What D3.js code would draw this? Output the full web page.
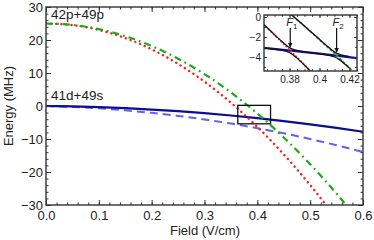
<!DOCTYPE html>
<html>
<head>
<meta charset="utf-8">
<script src="https://cdn.jsdelivr.net/npm/d3@7"></script>
<style>
  body { margin: 0; background: #fff; }
  text { font-family: "Liberation Sans", Arial, sans-serif; fill: #222; }
</style>
</head>
<body>
<svg id="canvas" width="374" height="240"></svg>
<script>
// field values (V/cm) and the four pair states (MHz)
const field = [0, 0.05, 0.1, 0.15, 0.2, 0.25, 0.3, 0.35, 0.4, 0.45, 0.5, 0.55, 0.6]
const dsSolid = [0, -0.12, -0.34, -0.66, -1.07, -1.57, -2.18, -2.87, -3.67, -4.56, -5.55, -6.63, -7.81]
const dsDashed = [0, -0.28, -0.72, -1.32, -2.08, -3.0, -4.08, -5.32, -6.72, -8.28, -10.0, -11.88, -13.92]
const ppRed = [25, 24.51, 23.04, 20.59, 17.17, 12.76, 7.38, 1.01, -6.33, -14.65, -23.95, -34.23, -45.49]
const ppGreen = [25, 24.57, 23.30, 21.16, 18.18, 14.34, 9.66, 4.11, -2.28, -9.53, -17.63, -26.57, -36.38]

// inset: zoom on the two crossings, black = coupled curves
const insetField = [0.36, 0.3625, 0.365, 0.3675, 0.37, 0.3725, 0.375, 0.3775, 0.38, 0.3825, 0.385, 0.3875,
  0.39, 0.3925, 0.395, 0.3975, 0.4, 0.4025, 0.405, 0.4075, 0.41, 0.4125, 0.415, 0.4175, 0.42]
const coupledTop = [null, null, null, null, null, null, null, 0.72, 0.397, 0.073, -0.252, -0.580,
  -0.909, -1.240, -1.571, -1.904, -2.236, -2.567, -2.893, -3.207, -3.484, -3.689, -3.812, -3.893, -3.957]
const coupledMid = [-0.353, -0.703, -1.054, -1.408, -1.761, -2.113, -2.456, -2.782, -3.064, -3.244, -3.350, -3.420,
  -3.478, -3.532, -3.584, -3.635, -3.689, -3.744, -3.807, -3.884, -4.000, -4.191, -4.464, -4.783, -5.121]
const coupledLow = [-3.048, -3.090, -3.133, -3.177, -3.224, -3.276, -3.337, -3.420, -3.559, -3.797, -4.112, -4.463,
  -4.828, -5.202, -5.581, -5.965, null, null, null, null, null, null, null, null, null]

const xTicks = [0, 0.1, 0.2, 0.3, 0.4, 0.5, 0.6]
const yTicks = [30, 20, 10, 0, -10, -20, -30]
const insetXTicks = [0.38, 0.4, 0.42]
const insetYTicks = [0, -2, -4]

const svg = d3.select("#canvas")
const x = d3.scaleLinear().domain([0, 0.6]).range([46, 363])
const y = d3.scaleLinear().domain([-30, 30]).range([205, 7])

const ix = d3.scaleLinear().domain([0.363, 0.425]).range([264, 357])
const iy = d3.scaleLinear().domain([-5.4, 0.2]).range([71, 15])

const defs = svg.append("defs")
defs.append("clipPath").attr("id", "clipMain").append("rect")
  .attr("x", x(0)).attr("y", y(30)).attr("width", x(0.6) - x(0)).attr("height", y(-30) - y(30))
defs.append("clipPath").attr("id", "clipInset").append("rect")
  .attr("x", ix.range()[0]).attr("y", iy.range()[1])
  .attr("width", ix.range()[1] - ix.range()[0]).attr("height", iy.range()[0] - iy.range()[1])
defs.append("marker").attr("id", "head").attr("viewBox", "0 0 10 10")
  .attr("refX", 9).attr("refY", 5).attr("markerWidth", 5).attr("markerHeight", 6)
  .attr("markerUnits", "userSpaceOnUse").attr("orient", "auto")
  .append("path").attr("d", "M0,0L10,5L0,10Z").attr("fill", "#111")

function series(sx, sy, xs, ys, curve) {
  return d3.line()
    .defined(function(d) { return d[1] != null })
    .x(function(d) { return sx(d[0]) })
    .y(function(d) { return sy(d[1]) })
    .curve(curve)(d3.zip(xs, ys))
}

// main curves
const main = svg.append("g").attr("clip-path", "url(#clipMain)")
main.append("path").attr("d", series(x, y, field, dsDashed, d3.curveNatural))
  .attr("fill", "none").attr("stroke", "#6060ff").attr("stroke-width", 2).attr("stroke-dasharray", "8,5")
main.append("path").attr("d", series(x, y, field, dsSolid, d3.curveNatural))
  .attr("fill", "none").attr("stroke", "#0c0c96").attr("stroke-width", 2.2)
main.append("path").attr("d", series(x, y, field, ppRed, d3.curveNatural))
  .attr("fill", "none").attr("stroke", "#ff1a1a").attr("stroke-width", 2.4)
  .attr("stroke-linecap", "round").attr("stroke-dasharray", "0.1,5")
main.append("path").attr("d", series(x, y, field, ppGreen, d3.curveNatural))
  .attr("fill", "none").attr("stroke", "#1eaa1e").attr("stroke-width", 2.2)
  .attr("stroke-dasharray", "7,4,1.8,4")

// zoom box
main.append("rect")
  .attr("x", x(ix.domain()[0])).attr("y", y(iy.domain()[1]))
  .attr("width", x(ix.domain()[1]) - x(ix.domain()[0]))
  .attr("height", y(iy.domain()[0]) - y(iy.domain()[1]))
  .attr("fill", "none").attr("stroke", "#111").attr("stroke-width", 1.3)

// frame ticks
function frameAxes(g, sx, sy, major, minorX, minorY, majorY, big, small, fmtX, fmtY, font, padX, padY) {
  const [x0, x1] = sx.range(), [y1, y0] = sy.range()
  g.append("g").attr("transform", `translate(0,${y1})`)
    .call(d3.axisBottom(sx).tickValues(major).tickSize(-big).tickSizeOuter(0).tickPadding(padX).tickFormat(fmtX))
  g.append("g").attr("transform", `translate(0,${y1})`)
    .call(d3.axisBottom(sx).tickValues(minorX).tickSize(-small).tickFormat(""))
  g.append("g").attr("transform", `translate(0,${y0})`)
    .call(d3.axisTop(sx).tickValues(major).tickSize(-big).tickFormat(""))
  g.append("g").attr("transform", `translate(0,${y0})`)
    .call(d3.axisTop(sx).tickValues(minorX).tickSize(-small).tickFormat(""))
  g.append("g").attr("transform", `translate(${x0},0)`)
    .call(d3.axisLeft(sy).tickValues(majorY).tickSize(-big).tickSizeOuter(0).tickPadding(padY).tickFormat(fmtY))
  g.append("g").attr("transform", `translate(${x0},0)`)
    .call(d3.axisLeft(sy).tickValues(minorY).tickSize(-small).tickFormat(""))
  g.append("g").attr("transform", `translate(${x1},0)`)
    .call(d3.axisRight(sy).tickValues(majorY).tickSize(-big).tickFormat(""))
  g.append("g").attr("transform", `translate(${x1},0)`)
    .call(d3.axisRight(sy).tickValues(minorY).tickSize(-small).tickFormat(""))
  g.selectAll(".domain").remove()
  g.selectAll(".tick line").attr("stroke", "#333")
  g.selectAll(".tick text").attr("font-size", font).attr("fill", "#222")
    .attr("font-family", "Liberation Sans, Arial, sans-serif")
  g.append("rect").attr("x", x0).attr("y", y0).attr("width", x1 - x0).attr("height", y1 - y0)
    .attr("fill", "none").attr("stroke", "#333").attr("stroke-width", 1.4)
}

const minorX = d3.range(0, 0.6001, 0.02).map(function(d) { return +d.toFixed(2) })
const minorY = d3.range(-30, 30.1, 2)
frameAxes(svg.append("g"), x, y, xTicks, minorX, minorY, yTicks, 5, 2.5,
  d3.format(".1f"), d3.format("d"), "13px", 6, 3)

// axis titles and state names
svg.append("text").attr("x", 205).attr("y", 235).attr("text-anchor", "middle")
  .attr("font-size", "13px").text("Field (V/cm)")
svg.append("text").attr("transform", "translate(13,106) rotate(-90)").attr("text-anchor", "middle")
  .attr("font-size", "13px").text("Energy (MHz)")
svg.append("text").attr("x", 51).attr("y", 19).attr("font-size", "13.5px").text("42p+49p")
svg.append("text").attr("x", 51).attr("y", 100).attr("font-size", "13.5px").text("41d+49s")

// inset
const inset = svg.append("g")
inset.append("rect").attr("x", ix.range()[0]).attr("y", iy.range()[1])
  .attr("width", ix.range()[1] - ix.range()[0]).attr("height", iy.range()[0] - iy.range()[1])
  .attr("fill", "#fff")
const inner = inset.append("g").attr("clip-path", "url(#clipInset)")
inner.append("path").attr("d", series(ix, iy, field, dsSolid, d3.curveNatural))
  .attr("fill", "none").attr("stroke", "#1010a8").attr("stroke-width", 2.2)
inner.append("path").attr("d", series(ix, iy, field, ppRed, d3.curveNatural))
  .attr("fill", "none").attr("stroke", "#ff2a2a").attr("stroke-width", 1.6).attr("stroke-dasharray", "2,1.5")
inner.append("path").attr("d", series(ix, iy, field, ppGreen, d3.curveNatural))
  .attr("fill", "none").attr("stroke", "#1eaa1e").attr("stroke-width", 1.6).attr("stroke-dasharray", "3,1.5")
;[coupledTop, coupledMid, coupledLow].forEach(function(ys) {
  inner.append("path").attr("d", series(ix, iy, insetField, ys, d3.curveCatmullRom))
    .attr("fill", "none").attr("stroke", "#111").attr("stroke-width", 1.3)
})

const insetMinorX = d3.range(0.365, 0.4251, 0.005).map(function(d) { return +d.toFixed(3) })
const insetMinorY = d3.range(-5, 0.1, 1)
frameAxes(inset.append("g"), ix, iy, insetXTicks, insetMinorX, insetMinorY, insetYTicks, 3, 1.8,
  function(d) { return d === 0.4 ? "0.4" : d3.format(".2f")(d) }, d3.format("d"), "10px", 5, 3)

// crossing markers
const crossings = [{ f: 0.3805, tip: -3.0, sub: "1" }, { f: 0.4114, tip: -3.5, sub: "2" }]
crossings.forEach(function(c) {
  inset.append("line").attr("x1", ix(c.f)).attr("x2", ix(c.f))
    .attr("y1", iy(-1.1)).attr("y2", iy(c.tip))
    .attr("stroke", "#111").attr("stroke-width", 1.2).attr("marker-end", "url(#head)")
  const t = inset.append("text").attr("x", ix(c.f) - 4).attr("y", iy(-1.0) - 1).attr("font-size", "11px")
  t.append("tspan").attr("font-style", "italic").text("F")
  t.append("tspan").attr("font-size", "8px").attr("dy", 2.5).text(c.sub)
})
</script>
</body>
</html>
